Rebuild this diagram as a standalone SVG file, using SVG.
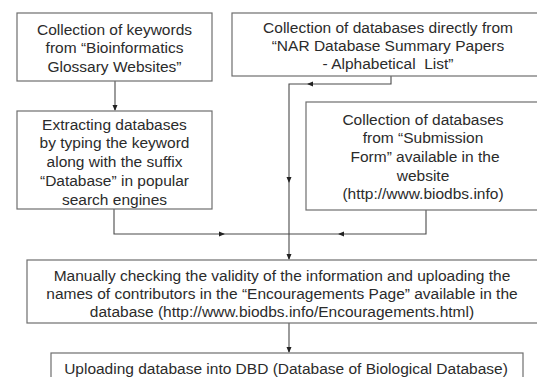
<svg xmlns="http://www.w3.org/2000/svg" width="537" height="377" viewBox="0 0 537 377">
  <style>
    .box { fill: #ffffff; stroke: #6e6e6e; stroke-width: 1.2; }
    .lbl { font-family: "Liberation Sans", Arial, sans-serif; font-size: 15.5px; fill: #2b2b2b; text-anchor: middle; }
    .wire { fill: none; stroke: #4a4a4a; stroke-width: 1.1; }
  </style>
  <defs>
    <marker id="arr" markerUnits="userSpaceOnUse" markerWidth="6" markerHeight="6" viewBox="0 0 6 6" refX="5" refY="3" orient="auto">
      <path d="M0,0.5 L6,3 L0,5.5 Z" fill="#222222"/>
    </marker>
  </defs>
  <rect width="537" height="377" fill="#ffffff"/>

  <!-- connectors -->
  <g id="connectors" class="wire">
    <!-- keywords to extraction -->
    <path d="M115,81 V110" marker-end="url(#arr)"/>
    <!-- NAR list down the shared trunk -->
    <path d="M391,76 V84 H308" marker-end="url(#arr)"/>
    <path d="M309,84 H289 V182" marker-end="url(#arr)"/>
    <path d="M289,181 V259" marker-end="url(#arr)"/>
    <!-- extraction joins the trunk -->
    <path d="M114,209 V234 H224" marker-end="url(#arr)"/>
    <path d="M223,234 H289"/>
    <!-- submission form joins the trunk -->
    <path d="M426,210 V234 H339" marker-end="url(#arr)"/>
    <path d="M340,234 H289"/>
    <!-- validation to upload -->
    <path d="M289,323 V352" marker-end="url(#arr)"/>
  </g>

  <g id="node-keywords">
    <rect class="box" x="17" y="13" width="195" height="68"/>
    <text class="lbl" x="114.5" y="34.5">Collection of keywords</text>
    <text class="lbl" x="114.5" y="53.3">from “Bioinformatics</text>
    <text class="lbl" x="114.5" y="72.1">Glossary Websites”</text>
  </g>

  <g id="node-nar">
    <rect class="box" x="232" y="13" width="312" height="63"/>
    <text class="lbl" x="388" y="32.5">Collection of databases directly from</text>
    <text class="lbl" x="388" y="51">“NAR Database Summary Papers</text>
    <text class="lbl" x="388" y="69.3" xml:space="preserve">- Alphabetical  List”</text>
  </g>

  <g id="node-extraction">
    <rect class="box" x="17" y="111" width="195" height="98"/>
    <text class="lbl" x="114.5" y="129.5">Extracting databases</text>
    <text class="lbl" x="114.5" y="148.3">by typing the keyword</text>
    <text class="lbl" x="114.5" y="167.1">along with the suffix</text>
    <text class="lbl" x="114.5" y="185.9">“Database” in popular</text>
    <text class="lbl" x="114.5" y="204.5">search engines</text>
  </g>

  <g id="node-submission">
    <rect class="box" x="306" y="102" width="236" height="108"/>
    <text class="lbl" x="423" y="124.5">Collection of databases</text>
    <text class="lbl" x="423" y="143.3">from “Submission</text>
    <text class="lbl" x="425" y="162">Form” available in the</text>
    <text class="lbl" x="423" y="180.7">website</text>
    <text class="lbl" x="423" y="199.4">(http://www.biodbs.info)</text>
  </g>

  <g id="node-validation">
    <rect class="box" x="27" y="260" width="512" height="63"/>
    <text class="lbl" x="282" y="280.5">Manually checking the validity of the information and uploading the</text>
    <text class="lbl" x="282" y="298.7">names of contributors in the “Encouragements Page” available in the</text>
    <text class="lbl" x="282" y="316.8">database (http://www.biodbs.info/Encouragements.html)</text>
  </g>

  <g id="node-upload">
    <rect class="box" x="51" y="353" width="472" height="30"/>
    <text class="lbl" x="286" y="373.5">Uploading database into DBD (Database of Biological Database)</text>
  </g>
</svg>
